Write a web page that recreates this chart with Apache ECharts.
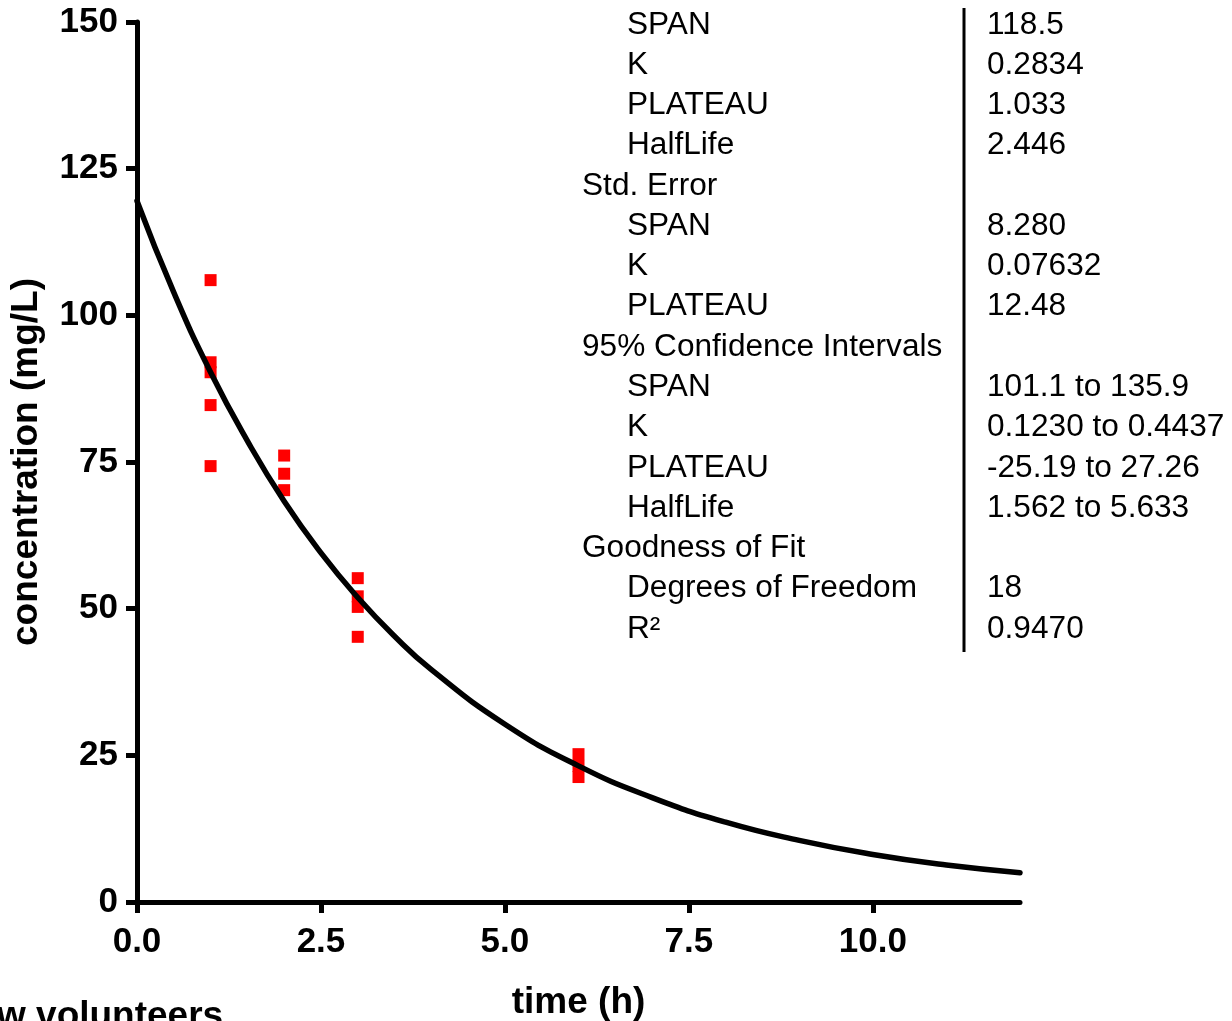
<!DOCTYPE html>
<html>
<head>
<meta charset="utf-8">
<script src="https://cdn.jsdelivr.net/npm/echarts@6/dist/echarts.min.js"></script>
<style>
html,body{margin:0;padding:0;background:#fff;}
#c{width:1232px;height:1021px;}
</style>
</head>
<body>
<div id="c"></div>
<script>
// Observed data points
const obsTime = [1, 1, 1, 1, 1, 2, 2, 2, 3, 3, 3, 3, 6, 6, 6];
const obsConc = [106.0, 92.0, 90.3, 84.7, 74.3, 76.1, 73.0, 70.2, 55.2, 52.1, 50.3, 45.2, 25.2, 23.2, 21.3];

// Fitted curve
const curveTime = [0, 0.5, 1, 1.5, 2, 2.5, 3, 3.5, 4, 5, 6, 7, 8, 9, 10, 11, 12];
const curveConc = [119.5, 103.9, 90.3, 78.6, 68.3, 59.5, 51.9, 45.3, 39.6, 30.3, 23.2, 17.8, 13.6, 10.5, 8.1, 6.3, 5.0];

// Tick labels
const xTicks = [0, 2.5, 5, 7.5, 10];
const yTicks = [0, 25, 50, 75, 100, 125, 150];

// Results table
const tableLabels = ["SPAN", "K", "PLATEAU", "HalfLife", "Std. Error", "SPAN", "K", "PLATEAU",
  "95% Confidence Intervals", "SPAN", "K", "PLATEAU", "HalfLife", "Goodness of Fit",
  "Degrees of Freedom", "R²"];
const tableIndent = [1, 1, 1, 1, 0, 1, 1, 1, 0, 1, 1, 1, 1, 0, 1, 1];
const tableValues = ["118.5", "0.2834", "1.033", "2.446", "", "8.280", "0.07632", "12.48",
  "", "101.1 to 135.9", "0.1230 to 0.4437", "-25.19 to 27.26", "1.562 to 5.633", "",
  "18", "0.9470"];

const FONT = '"Liberation Sans", Arial, Helvetica, sans-serif';
const chart = echarts.init(document.getElementById('c'));

const scatterData = obsTime.map((t, i) => [t, obsConc[i]]);
const curveData = curveTime.map((t, i) => [t, curveConc[i]]);

const graphics = [];
const rowTop = 25, rowStep = 40.27;
tableLabels.forEach((lab, i) => {
  graphics.push({
    type: 'text', x: tableIndent[i] ? 627 : 582, y: rowTop + i * rowStep, scaleX: 1.02,
    style: { text: lab, font: '31px ' + FONT, fill: '#000', textVerticalAlign: 'middle', textAlign: 'left' }
  });
  if (tableValues[i]) {
    graphics.push({
      type: 'text', x: 987, y: rowTop + i * rowStep, scaleX: 1.02,
      style: { text: tableValues[i], font: '31px ' + FONT, fill: '#000', textVerticalAlign: 'middle', textAlign: 'left' }
    });
  }
});
graphics.push({
  type: 'line', shape: { x1: 964, y1: 8, x2: 964, y2: 652 },
  style: { stroke: '#000', lineWidth: 3 }
});
graphics.push({
  type: 'text', x: -3, y: 998,
  style: { text: 'w volunteers', font: 'bold 37px ' + FONT, fill: '#000', textVerticalAlign: 'top', textAlign: 'left' }
});

chart.setOption({
  animation: false,
  backgroundColor: '#fff',
  grid: { left: 137, right: 212, top: 22, bottom: 119, containLabel: false, outerBoundsMode: 'none' },
  xAxis: {
    type: 'value', min: 0, max: 12, interval: 2.5,
    name: 'time (h)', nameLocation: 'middle', nameGap: 82,
    nameTextStyle: { fontFamily: FONT, fontWeight: 'bold', fontSize: 37, color: '#000' },
    axisLine: { show: true, onZero: false, lineStyle: { color: '#000', width: 5, cap: 'round' } },
    axisTick: { show: true, length: 11, customValues: xTicks, lineStyle: { color: '#000', width: 5 } },
    axisLabel: {
      customValues: xTicks, margin: 23,
      fontFamily: FONT, fontWeight: 'bold', fontSize: 35, color: '#000',
      formatter: v => v.toFixed(1)
    },
    splitLine: { show: false }
  },
  yAxis: {
    type: 'value', min: 0, max: 150, interval: 25,
    name: 'concentration (mg/L)', nameLocation: 'middle', nameGap: 92,
    nameTextStyle: { fontFamily: FONT, fontWeight: 'bold', fontSize: 37, color: '#000' },
    axisLine: { show: true, onZero: false, lineStyle: { color: '#000', width: 5 } },
    axisTick: { show: true, length: 11, customValues: yTicks, lineStyle: { color: '#000', width: 5 } },
    axisLabel: {
      customValues: yTicks, margin: 19,
      fontFamily: FONT, fontWeight: 'bold', fontSize: 35, color: '#000'
    },
    splitLine: { show: false }
  },
  series: [
    {
      type: 'scatter', data: scatterData, symbol: 'rect', symbolSize: 12,
      itemStyle: { color: '#ff0000', opacity: 1 }, z: 2
    },
    {
      type: 'line', data: curveData, smooth: true, showSymbol: false,
      lineStyle: { color: '#000', width: 5.5, cap: 'round' }, z: 3
    }
  ],
  graphic: graphics
});
</script>
</body>
</html>
